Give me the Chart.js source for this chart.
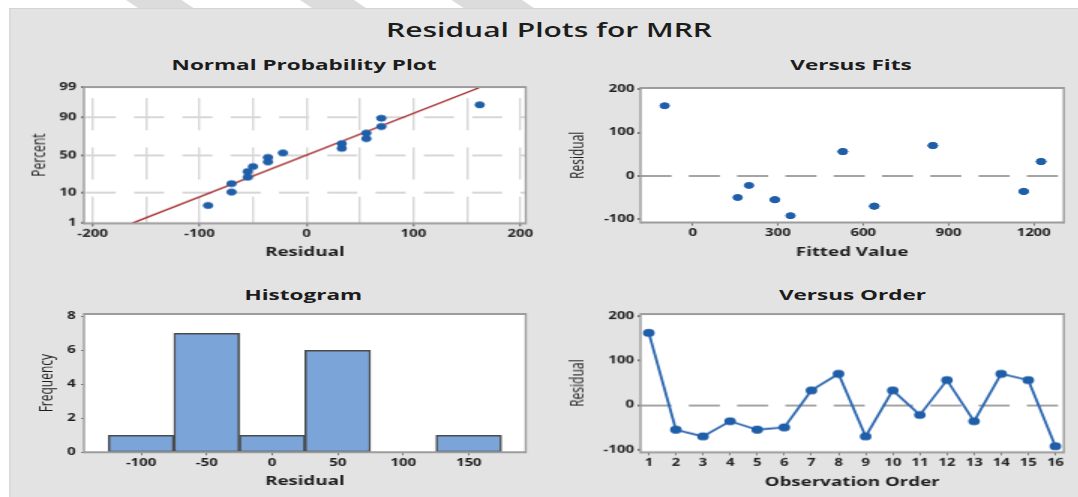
<!DOCTYPE html>
<html><head><meta charset="utf-8">
<script src="https://cdn.jsdelivr.net/npm/chart.js@4.4.1/dist/chart.umd.min.js"></script>
<style>
html,body{margin:0;padding:0;background:#fff;overflow:hidden;width:1078px;height:497px;}
#wrap{position:absolute;left:0;top:0;width:718.667px;height:497px;transform:scaleX(1.5);transform-origin:0 0;}
#panel{position:absolute;left:6px;top:8px;right:0;bottom:0;background:#e3e3e3;border-top:1px solid #d4d4d4;border-left:1px solid #d8d8d8;}
.stripe{position:absolute;top:0;height:8px;background:#dcdcdc;transform:skewX(45deg);transform-origin:0 0;}
.t{position:absolute;white-space:nowrap;color:#1c1c1c;font-family:'Open Sans',sans-serif;transform:translateX(-50%);}
.sub{font-size:15px;font-weight:bold;line-height:15px;}
.box{position:absolute;}
</style></head><body>
<div id="wrap">
  <div class="stripe" style="left:84px;width:37px"></div>
  <div class="stripe" style="left:200px;width:36px"></div>
  <div class="stripe" style="left:301px;width:47px"></div>
  <div id="panel"></div>
  <div class="t" style="left:366px;top:19.6px;font-size:20px;line-height:20px;font-weight:600;">Residual Plots for MRR</div>
  <div class="t sub" style="left:202.7px;top:56.7px;">Normal Probability Plot</div>
  <div class="t sub" style="left:567.3px;top:56.7px;">Versus Fits</div>
  <div class="t sub" style="left:202.2px;top:286.7px;">Histogram</div>
  <div class="t sub" style="left:568.3px;top:286.7px;">Versus Order</div>
  <div class="box" id="b1"><canvas id="c1"></canvas></div>
  <div class="box" id="b2"><canvas id="c2"></canvas></div>
  <div class="box" id="b3"><canvas id="c3"></canvas></div>
  <div class="box" id="b4"><canvas id="c4"></canvas></div>
</div>
<script>
// ---------------- data ----------------
const obsOrder     = [1, 2, 3, 4, 5, 6, 7, 8, 9, 10, 11, 12, 13, 14, 15, 16];
const residuals    = [162, -55, -70, -36, -55, -50, 33, 70, -70, 33, -22, 56, -36, 70, 56, -92];
const fittedValues = [-99, 289, 639, 1165, 289, 158, 1226, 845, 639, 1226, 198, 528, 1165, 845, 528, 344];

const nppResidual = [-92, -70, -70, -55, -55, -50, -36, -36, -22, 33, 33, 56, 56, 70, 70, 162];
const nppPercent  = [4.27, 10.37, 16.46, 22.56, 28.66, 34.76, 40.85, 46.95, 53.05, 59.15, 65.24, 71.34, 77.44, 83.54, 89.63, 95.73];
const nppFitResidual = [-163, 163];
const nppFitPercent  = [1, 99];
const nppXGrid   = [-200, -150, -100, -50, 0, 50, 100, 150, 200];
const nppXLabels = [-200, -100, 0, 100, 200];
const nppYTicks  = [1, 10, 50, 90, 99];
const nppYGrid   = [10, 50, 90];

const histBinCenters = [-100, -50, 0, 50, 100, 150];
const histCounts     = [1, 7, 1, 6, 0, 1];
const histYTicks     = [0, 2, 4, 6, 8];

const fitsXTicks  = [0, 300, 600, 900, 1200];
const residTicks  = [-100, 0, 100, 200];

// ---------------- helpers ----------------
function probit(p){
  const a=[-3.969683028665376e+01,2.209460984245205e+02,-2.759285104469687e+02,1.383577518672690e+02,-3.066479806614716e+01,2.506628277459239e+00];
  const b=[-5.447609879822406e+01,1.615858368580409e+02,-1.556989798598866e+02,6.680131188771972e+01,-1.328068155288572e+01];
  const c=[-7.784894002430293e-03,-3.223964580411365e-01,-2.400758277161838e+00,-2.549732539343734e+00,4.374664141464968e+00,2.938163982698783e+00];
  const d=[7.784695709041462e-03,3.224671290700398e-01,2.445134137142996e+00,3.754408661907416e+00];
  const pl=0.02425, ph=1-pl; let q,r;
  if(p<pl){q=Math.sqrt(-2*Math.log(p));return (((((c[0]*q+c[1])*q+c[2])*q+c[3])*q+c[4])*q+c[5])/((((d[0]*q+d[1])*q+d[2])*q+d[3])*q+1);}
  if(p<=ph){q=p-0.5;r=q*q;return (((((a[0]*r+a[1])*r+a[2])*r+a[3])*r+a[4])*r+a[5])*q/(((((b[0]*r+b[1])*r+b[2])*r+b[3])*r+b[4])*r+1);}
  q=Math.sqrt(-2*Math.log(1-p));return -(((((c[0]*q+c[1])*q+c[2])*q+c[3])*q+c[4])*q+c[5])/((((d[0]*q+d[1])*q+d[2])*q+d[3])*q+1);
}
class ProbScale extends Chart.Scale {
  determineDataLimits(){ this.min = this.options.min; this.max = this.options.max; }
  buildTicks(){ return (this.options.probTicks || []).map(v => ({value: v})); }
  getLabelForValue(v){ return String(v); }
  getPixelForValue(v){
    const z0 = probit(this.min/100), z1 = probit(this.max/100);
    return this.getPixelForDecimal((probit(v/100) - z0) / (z1 - z0));
  }
  getPixelForTick(i){ return this.getPixelForValue(this.ticks[i].value); }
  getValueForPixel(){ return NaN; }
}
ProbScale.id = 'probability';
ProbScale.defaults = {};
Chart.register(ProbScale);

Chart.defaults.font.family = "'Open Sans', sans-serif";
const BLUE = '#1f5ea8';
const TICK_COLOR = '#777';
const NONE = 'rgba(0,0,0,0)';
const tickFont  = {size: 10, weight: 'bold'};
const xTitleFont = {size: 12.5, weight: 'bold'};
const yTitleFont = {size: 12, weight: 'normal'};
const AXW = 50, AXH = 40, PADT = 10;

const zeroPad = s => { s.paddingTop = 0; s.paddingBottom = 0; s.paddingLeft = 0; s.paddingRight = 0; };
const fixW = w => s => { s.width = w; zeroPad(s); };
const fixH = h => s => { s.height = h; zeroPad(s); };
const setTicks = arr => s => { s.ticks = arr.map(v => ({value: v})); };
const plainLabel = v => String(v);

const framePlugin = {
  id: 'frame',
  beforeDraw(chart){
    const {ctx, chartArea: a} = chart;
    ctx.save(); ctx.fillStyle = '#fff'; ctx.fillRect(a.left, a.top, a.right - a.left, a.bottom - a.top); ctx.restore();
  },
  afterDraw(chart){
    const {ctx, chartArea: a} = chart;
    ctx.save(); ctx.strokeStyle = '#9c9c9c';
    ctx.lineWidth = 2;
    ctx.beginPath(); ctx.moveTo(a.left, a.top); ctx.lineTo(a.right, a.top); ctx.moveTo(a.left, a.bottom); ctx.lineTo(a.right, a.bottom); ctx.stroke();
    ctx.lineWidth = 1.4;
    ctx.beginPath(); ctx.moveTo(a.left, a.top - 1); ctx.lineTo(a.left, a.bottom + 1); ctx.moveTo(a.right, a.top - 1); ctx.lineTo(a.right, a.bottom + 1); ctx.stroke();
    ctx.restore();
  }
};

function placeBox(id, L, T, R, B, padR){
  const el = document.getElementById(id);
  el.style.left = (L - AXW) + 'px';
  el.style.top = (T - PADT) + 'px';
  el.style.width = (R + padR - (L - AXW)) + 'px';
  el.style.height = (B + AXH - (T - PADT)) + 'px';
}
placeBox('b1', 55.5, 87.3, 350, 222.7, 15);
placeBox('b2', 426.7, 87.7, 708.9, 222.3, 9.6);
placeBox('b3', 55.5, 314, 350, 452.3, 15);
placeBox('b4', 426.7, 314.3, 708.9, 451.7, 9.6);

function baseOpts(padR){
  return {
    animation: false, responsive: true, maintainAspectRatio: false, events: [],
    layout: {padding: {top: PADT, right: padR, bottom: 0, left: 0}},
    plugins: {legend: {display: false}, tooltip: {enabled: false}, title: {display: false}}
  };
}
function xTitle(text, padB){ return {display: true, text, font: xTitleFont, color: '#1e1e1e', padding: {top: 0, bottom: padB}}; }
function yTitle(text, padT){ return {display: true, text, font: yTitleFont, color: '#1e1e1e', padding: {top: padT, bottom: 0}}; }
function tickOpts(pad, cb){ return {font: tickFont, color: '#1e1e1e', padding: pad, maxRotation: 0, autoSkip: false, callback: cb || plainLabel}; }

// ---------------- Normal probability plot ----------------
new Chart(document.getElementById('c1'), {
  type: 'scatter',
  data: {datasets: [
    {type: 'line', data: nppFitResidual.map((x, i) => ({x, y: nppFitPercent[i]})), borderColor: '#9e1f22', borderWidth: 1.3, pointRadius: 0, fill: false, order: 2},
    {data: nppResidual.map((x, i) => ({x, y: nppPercent[i]})), backgroundColor: BLUE, borderColor: BLUE, pointRadius: 3, order: 1}
  ]},
  options: Object.assign(baseOpts(15), {
    scales: {
      x: {type: 'linear', offset: false, min: -208, max: 205, afterBuildTicks: setTicks(nppXGrid), afterFit: fixH(AXH),
          ticks: tickOpts(2, v => nppXLabels.includes(v) ? String(v) : ''),
          grid: {offset: false, color: '#d7d7d7', lineWidth: 1.4, tickLength: 3, tickColor: c => (c.tick && nppXLabels.includes(c.tick.value)) ? TICK_COLOR : NONE},
          border: {display: false, dash: [32, 17], dashOffset: 38},
          title: xTitle('Residual', 3.7)},
      y: {type: 'probability', min: 1, max: 99, probTicks: nppYTicks, afterFit: fixW(AXW),
          ticks: tickOpts(3),
          grid: {color: c => (c.tick && nppYGrid.includes(c.tick.value)) ? '#d7d7d7' : NONE, lineWidth: 2, tickLength: 2, tickColor: TICK_COLOR},
          border: {display: false, dash: [20, 12.2], dashOffset: 31},
          title: yTitle('Percent', 13.4)}
    }
  }),
  plugins: [framePlugin]
});

// ---------------- Versus fits ----------------
new Chart(document.getElementById('c2'), {
  type: 'scatter',
  data: {datasets: [
    {data: fittedValues.map((x, i) => ({x, y: residuals[i]})), backgroundColor: BLUE, borderColor: BLUE, pointRadius: 3}
  ]},
  options: Object.assign(baseOpts(9.6), {
    scales: {
      x: {type: 'linear', offset: false, min: -184, max: 1306, afterBuildTicks: setTicks(fitsXTicks), afterFit: fixH(AXH),
          ticks: tickOpts(2),
          grid: {offset: false, drawOnChartArea: false, tickLength: 3, tickColor: TICK_COLOR},
          border: {display: false},
          title: xTitle('Fitted Value', 2.8)},
      y: {type: 'linear', min: -108, max: 203, afterBuildTicks: setTicks(residTicks), afterFit: fixW(AXW),
          ticks: tickOpts(2),
          grid: {color: c => (c.tick && c.tick.value === 0) ? '#a4a4a4' : NONE, lineWidth: 2, tickLength: 2, tickColor: TICK_COLOR},
          border: {display: false, dash: [20.7, 11.5], dashOffset: 0},
          title: yTitle('Residual', 1.5)}
    }
  }),
  plugins: [framePlugin]
});

// ---------------- Histogram ----------------
new Chart(document.getElementById('c3'), {
  type: 'bar',
  data: {datasets: [
    {data: histBinCenters.map((x, i) => ({x, y: histCounts[i]})), backgroundColor: '#7ba5d8', borderColor: '#4a4a4a', borderWidth: 1.5,
     borderSkipped: false, categoryPercentage: 1, barPercentage: 1}
  ]},
  options: Object.assign(baseOpts(15), {
    scales: {
      x: {type: 'linear', offset: false, min: -143.6, max: 193.5, afterBuildTicks: setTicks(histBinCenters), afterFit: fixH(AXH),
          ticks: tickOpts(2),
          grid: {offset: false, drawOnChartArea: false, tickLength: 3, tickColor: TICK_COLOR},
          border: {display: false},
          title: xTitle('Residual', 3.1)},
      y: {type: 'linear', min: 0, max: 8.13, afterBuildTicks: setTicks(histYTicks), afterFit: fixW(AXW),
          ticks: tickOpts(3.5),
          grid: {drawOnChartArea: false, tickLength: 2, tickColor: TICK_COLOR},
          border: {display: false},
          title: yTitle('Frequency', 18.7)}
    }
  }),
  plugins: [framePlugin]
});

// ---------------- Versus order ----------------
new Chart(document.getElementById('c4'), {
  type: 'scatter',
  data: {datasets: [
    {type: 'line', data: obsOrder.map((x, i) => ({x, y: residuals[i]})), borderColor: '#2a66b0', borderWidth: 1.8, tension: 0,
     backgroundColor: BLUE, pointBackgroundColor: BLUE, pointBorderColor: BLUE, pointRadius: 3, fill: false}
  ]},
  options: Object.assign(baseOpts(9.6), {
    scales: {
      x: {type: 'linear', offset: false, min: 0.694, max: 16.31, afterBuildTicks: setTicks(obsOrder), afterFit: fixH(AXH),
          ticks: tickOpts(2),
          grid: {offset: false, drawOnChartArea: false, tickLength: 3, tickColor: TICK_COLOR},
          border: {display: false},
          title: xTitle('Observation Order', 2.2)},
      y: {type: 'linear', min: -105.5, max: 204, afterBuildTicks: setTicks(residTicks), afterFit: fixW(AXW),
          ticks: tickOpts(2.4),
          grid: {color: c => (c.tick && c.tick.value === 0) ? '#a4a4a4' : NONE, lineWidth: 2, tickLength: 2, tickColor: TICK_COLOR},
          border: {display: false, dash: [20.7, 11.5], dashOffset: 0},
          title: yTitle('Residual', 1.5)}
    }
  }),
  plugins: [framePlugin]
});
</script>
</body></html>
